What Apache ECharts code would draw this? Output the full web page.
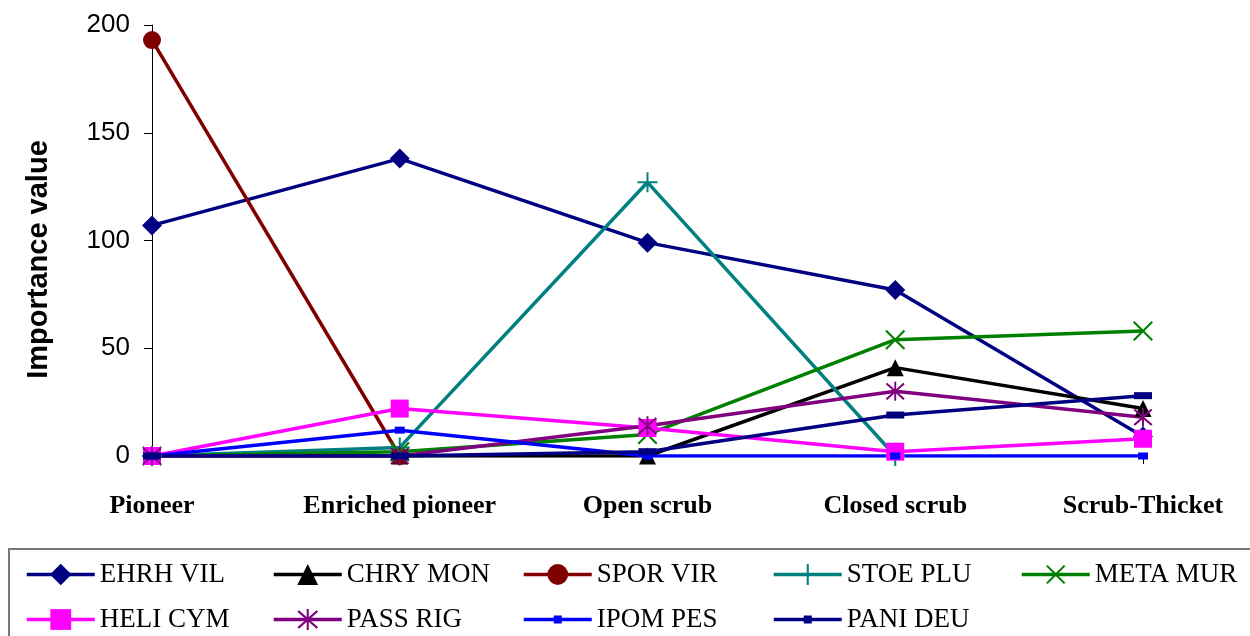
<!DOCTYPE html>
<html>
<head>
<meta charset="utf-8">
<script src="https://cdn.jsdelivr.net/npm/echarts@6/dist/echarts.min.js"></script>
<style>
  html, body { margin: 0; padding: 0; background: #fff; }
  #chart { width: 1250px; height: 636px; }
</style>
</head>
<body>
<div id="chart"></div>
<script>
// Successional stages (x axis)
const stages = ['Pioneer', 'Enriched pioneer', 'Open scrub', 'Closed scrub', 'Scrub-Thicket'];
const yTicks = [0, 50, 100, 150, 200];

// Importance value of each species per stage (null = not recorded)
const ehrhVil = [107, 138, 99, 77, 9];
const chryMon = [0, 0, 0, 41, 22];
const sporVir = [193, 0, null, null, null];
const stoePlu = [0, 4, 127, 0, null];
const metaMur = [0, 2, 10, 54, 58];
const heliCym = [0, 22, 13, 2, 8];
const passRig = [0, 0, 14, 30, 18];
const ipomPes = [0, 12, 0, 0, 0];
const paniDeu = [0, 0, 2, 19, 28];

const speciesNames = ['EHRH VIL', 'CHRY MON', 'SPOR VIR', 'STOE PLU', 'META MUR',
                      'HELI CYM', 'PASS RIG', 'IPOM PES', 'PANI DEU'];

// Marker shapes
const plusPath = 'path://M9,0 L11,0 L11,9 L20,9 L20,11 L11,11 L11,20 L9,20 L9,11 L0,11 L0,9 L9,9 Z';
const crossPath = 'path://M0,1.5 L1.5,0 L10,8.5 L18.5,0 L20,1.5 L11.5,10 L20,18.5 L18.5,20 L10,11.5 L1.5,20 L0,18.5 L8.5,10 Z';
const starPath = 'path://M0,2.5 L1.5,1 L10,8.5 L18.5,1 L20,2.5 L11.5,10 L20,17.5 L18.5,19 L10,11.5 L1.5,19 L0,17.5 L8.5,10 Z M9,0 L11,0 L11,20 L9,20 Z';

const styles = [
  { data: ehrhVil, color: '#000080', symbol: 'diamond', size: 20, legendH: 27 },
  { data: chryMon, color: '#000000', symbol: 'triangle', size: 17, legendH: 26 },
  { data: sporVir, color: '#800000', symbol: 'circle', size: 18, legendH: 26 },
  { data: stoePlu, color: '#008080', symbol: plusPath, size: 20, legendH: 26 },
  { data: metaMur, color: '#008000', symbol: crossPath, size: 20, legendH: 24 },
  { data: heliCym, color: '#FF00FF', symbol: 'rect', size: 18, legendH: 26 },
  { data: passRig, color: '#800080', symbol: starPath, size: 19, legendH: 26 },
  { data: ipomPes, color: '#0000FF', symbol: 'rect', size: [10, 7], legendH: 10 },
  { data: paniDeu, color: '#000080', symbol: 'rect', size: [18, 7], legendH: 10 }
];

const series = styles.map((s, i) => ({
  name: speciesNames[i],
  type: 'line',
  data: s.data,
  symbol: s.symbol,
  symbolSize: s.size,
  showAllSymbol: true,
  connectNulls: false,
  lineStyle: { color: s.color, width: 3.5 },
  itemStyle: { color: s.color, borderWidth: 0 },
  emphasis: { disabled: true },
  animation: false
}));

// One legend per entry so the columns line up on a fixed grid
const legendCols = [25, 272, 522, 772, 1020];
const legendRows = [561, 606];
const legends = speciesNames.map((n, i) => ({
  data: [n],
  left: legendCols[i % 5],
  top: legendRows[Math.floor(i / 5)],
  padding: 0,
  itemWidth: 68,
  itemHeight: styles[i].legendH,
  itemGap: 0,
  lineStyle: { width: 3.5 },
  textStyle: { fontFamily: 'Liberation Serif', fontSize: 27, color: '#000' },
  selectedMode: false
}));

const chart = echarts.init(document.getElementById('chart'), null, { renderer: 'canvas' });
chart.setOption({
  backgroundColor: '#fff',
  animation: false,
  grid: { left: 152, right: 107, top: 25, bottom: 180, containLabel: false },
  legend: legends,
  xAxis: {
    type: 'category',
    data: stages,
    boundaryGap: false,
    axisLine: { show: true, lineStyle: { color: '#000', width: 1 } },
    axisTick: { show: true, length: 8, interval: 0, lineStyle: { color: '#000' } },
    axisLabel: {
      interval: 0,
      margin: 37,
      fontFamily: 'Liberation Serif',
      fontWeight: 'bold',
      fontSize: 26,
      color: '#000'
    },
    splitLine: { show: false }
  },
  yAxis: {
    type: 'value',
    min: yTicks[0],
    max: yTicks[yTicks.length - 1],
    interval: 50,
    name: 'Importance value',
    nameLocation: 'middle',
    nameGap: 99,
    nameTextStyle: {
      fontFamily: 'Liberation Sans', fontWeight: 'bold', fontSize: 29, color: '#000',
      padding: [0, 38, 0, 0]
    },
    axisLine: { show: true, lineStyle: { color: '#000', width: 1 } },
    axisTick: { show: true, length: 8, lineStyle: { color: '#000' } },
    axisLabel: { margin: 22, fontFamily: 'Liberation Sans', fontSize: 26, color: '#000' },
    splitLine: { show: false }
  },
  graphic: [{
    type: 'rect',
    shape: { x: 9, y: 549, width: 1260, height: 110 },
    style: { fill: 'none', stroke: '#777', lineWidth: 2 },
    z: -1
  }],
  series: series
});
</script>
</body>
</html>
